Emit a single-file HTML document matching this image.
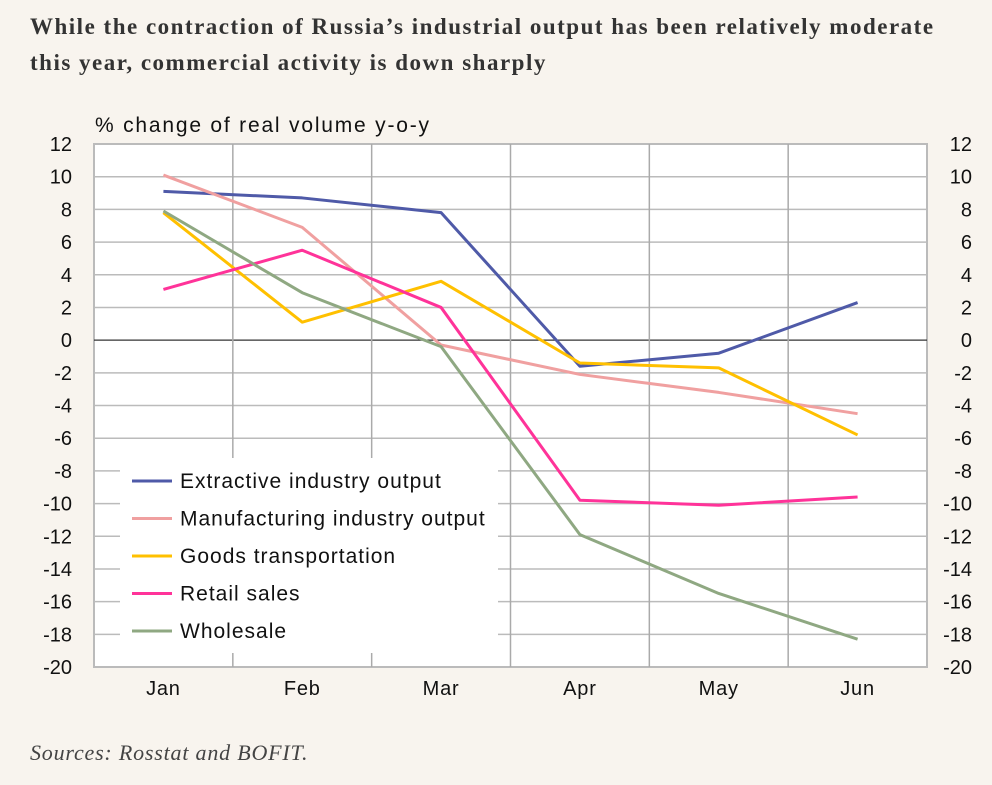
<!DOCTYPE html>
<html><head><meta charset="utf-8"><style>
body{margin:0;width:992px;height:785px;background:#f8f4ee;overflow:hidden;position:relative}
.title{position:absolute;left:30px;top:9px;font:bold 23px/36px "Liberation Serif",serif;letter-spacing:1.5px;color:#333;white-space:nowrap}
.src{position:absolute;left:30px;top:740px;font:italic 22px "Liberation Serif",serif;letter-spacing:0.8px;color:#444}
svg text{font-family:"Liberation Sans",sans-serif;fill:#111}
</style></head><body>
<div class="title">While the contraction of Russia’s industrial output has been relatively moderate<br>this year, commercial activity is down sharply</div>
<svg id="c" width="992" height="785" style="position:absolute;left:0;top:0"></svg>
<div class="src">Sources: Rosstat and BOFIT.</div>
<script>
const categories=["Jan","Feb","Mar","Apr","May","Jun"];
const seriesNames=["Extractive industry output","Manufacturing industry output","Goods transportation","Retail sales","Wholesale"];
const extractive=[9.1,8.7,7.8,-1.6,-0.8,2.3];
const manufacturing=[10.1,6.9,-0.3,-2.1,-3.2,-4.5];
const goods=[7.8,1.1,3.6,-1.4,-1.7,-5.8];
const retail=[3.1,5.5,2.0,-9.8,-10.1,-9.6];
const wholesale=[7.9,2.9,-0.4,-11.9,-15.5,-18.3];
const yTicks=[12,10,8,6,4,2,0,-2,-4,-6,-8,-10,-12,-14,-16,-18,-20];
const colors=["#4f5aa8","#f0a0a0","#ffc000","#ff3399","#8fa882"];
const series=[extractive,manufacturing,goods,retail,wholesale];
const L=94,R=927,T=144,B=667,ymax=12,ymin=-20;
const y=v=>T+(ymax-v)/(ymax-ymin)*(B-T);
const bw=(R-L)/categories.length;
const x=i=>L+bw*(i+0.5);
const svg=document.getElementById('c');
const NS="http://www.w3.org/2000/svg";
function mk(t,a,p){const e=document.createElementNS(NS,t);for(const k in a)e.setAttribute(k,a[k]);(p||svg).appendChild(e);return e;}
mk('rect',{x:L,y:T,width:R-L,height:B-T,fill:'#fff',stroke:'#bbb','stroke-width':2});
yTicks.forEach(v=>{
 const g=mk('line',{x1:L,x2:R,y1:y(v),y2:y(v),stroke:v===0?'#333':'#bbb','stroke-width':v===0?1.2:1.5});
 
 const t1=mk('text',{x:72,y:y(v)+7,'text-anchor':'end','font-size':20});t1.textContent=v;
 
 const t2=mk('text',{x:972,y:y(v)+7,'text-anchor':'end','font-size':20});t2.textContent=v;
 
});
for(let i=1;i<categories.length;i++){const g=mk('line',{x1:L+bw*i,x2:L+bw*i,y1:T,y2:B,stroke:'#aaa','stroke-width':1.5});
 }
categories.forEach((c,i)=>{const t=mk('text',{x:x(i),y:695,'text-anchor':'middle','font-size':20,'letter-spacing':'0.8'});t.textContent=c;
 });
const yt=mk('text',{x:95,y:132,'font-size':21,'letter-spacing':'1.8'});yt.textContent='% change of real volume y-o-y';

series.forEach((s,k)=>{const p=mk('polyline',{points:s.map((v,i)=>x(i)+','+y(v)).join(' '),fill:'none',stroke:colors[k],'stroke-width':3,'stroke-linejoin':'round'});
 });
const lb=mk('rect',{x:120,y:458,width:378,height:195,fill:'#fff'});

seriesNames.forEach((n,k)=>{const yy=481+k*37.5;
 const l=mk('line',{x1:132,x2:172,y1:yy,y2:yy,stroke:colors[k],'stroke-width':3});
 
 const t=mk('text',{x:180,y:yy+7,'font-size':21,'letter-spacing':'1'});t.textContent=n;
 });
</script>
</body></html>
